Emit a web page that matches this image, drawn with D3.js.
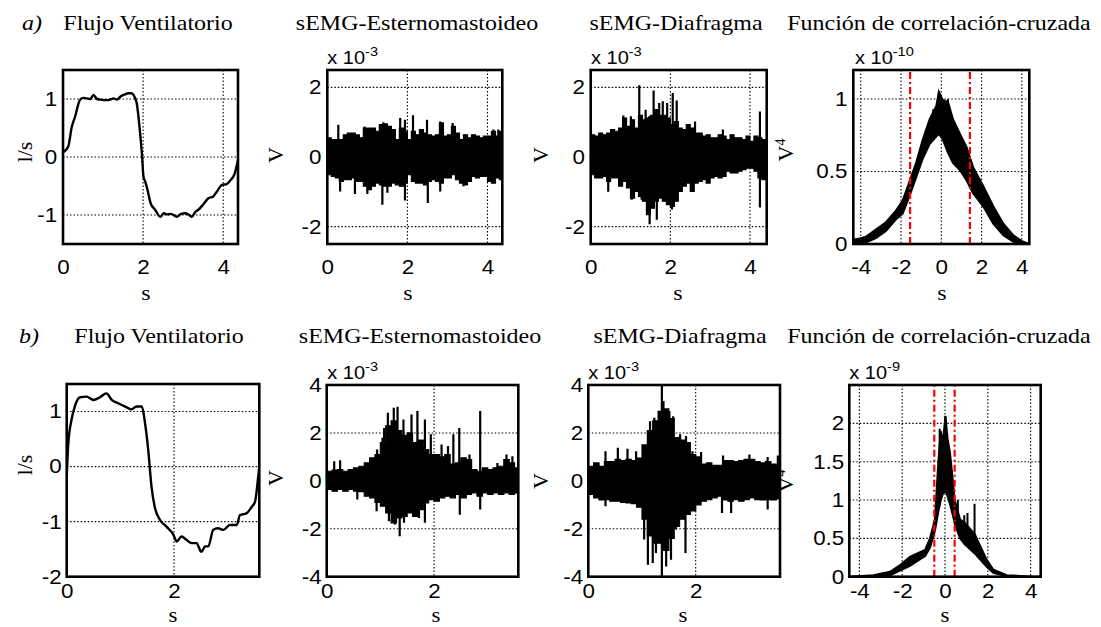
<!DOCTYPE html>
<html><head><meta charset="utf-8">
<script src="https://cdn.jsdelivr.net/npm/d3@7/dist/d3.min.js"></script>
<style>body{margin:0;background:#fff}svg{display:block}</style>
</head><body>
<svg id="c" width="1101" height="627"></svg>
<script>
// ---------------- DATA ----------------
// Row a) ventilatory flow (l/s)
const flowA_t = [0, 0.02, 0.13, 0.22, 0.3, 0.42, 0.5, 0.59, 0.68, 0.76, 0.85, 0.93, 1.09, 1.18, 1.26, 1.35, 1.43, 1.55, 1.63, 1.7, 1.76, 1.84, 1.91, 1.97, 2.01, 2.05, 2.09, 2.19, 2.3, 2.43, 2.52, 2.59, 2.7, 2.84, 2.95, 3.05, 3.15, 3.22, 3.3, 3.38, 3.5, 3.63, 3.75, 3.84, 3.97, 4.08, 4.18, 4.28, 4.37];
const flowA_v = [0.08, 0.09, 0.18, 0.52, 0.69, 0.98, 1.02, 1.01, 1.0, 1.07, 1.0, 0.99, 0.98, 0.99, 1.01, 0.99, 1.04, 1.08, 1.1, 1.1, 1.07, 0.93, 0.52, 0.06, -0.34, -0.42, -0.51, -0.8, -0.91, -1.03, -0.97, -0.99, -0.98, -1.03, -0.98, -0.97, -1.0, -1.03, -0.95, -0.91, -0.82, -0.71, -0.68, -0.6, -0.48, -0.47, -0.4, -0.3, -0.05];
// Row b) ventilatory flow (l/s)
const flowB_t = [0, 0.03, 0.09, 0.15, 0.25, 0.37, 0.5, 0.62, 0.74, 0.84, 0.96, 1.09, 1.21, 1.3, 1.4, 1.46, 1.52, 1.58, 1.64, 1.74, 1.86, 1.99, 2.05, 2.14, 2.23, 2.33, 2.42, 2.51, 2.58, 2.64, 2.73, 2.82, 2.92, 3.04, 3.17, 3.23, 3.35, 3.45, 3.51, 3.57, 3.59];
const flowB_v = [-0.2, 0.42, 0.85, 1.09, 1.26, 1.27, 1.21, 1.26, 1.33, 1.21, 1.15, 1.09, 1.04, 1.09, 1.09, 0.79, 0.3, -0.36, -0.73, -0.97, -1.09, -1.24, -1.36, -1.27, -1.33, -1.39, -1.39, -1.55, -1.45, -1.45, -1.15, -1.12, -1.15, -1.06, -1.06, -0.88, -0.85, -0.73, -0.64, -0.18, 0.0];

// sEMG envelopes (x 10^-3 V), one value per 0.1 s window, plus isolated spikes [t, v]
const emgStep = 0.1;
const emgA2_up = [0.55,0.5,0.5,0.5,0.64,0.69,0.69,0.64,0.55,0.83,0.83,0.83,0.74,0.93,0.95,0.88,0.79,0.5,0.83,0.74,0.5,0.74,0.64,0.79,0.69,0.64,0.6,0.64,0.98,0.6,0.64,0.88,0.69,0.5,0.64,0.55,0.64,0.6,0.55,0.6,0.6,0.74,0.6,0.74];
const emgA2_lo = [-0.51,-0.56,-0.6,-0.7,-0.65,-0.65,-0.6,-0.7,-0.7,-0.84,-0.94,-0.84,-0.75,-0.8,-0.84,-0.84,-0.75,-0.8,-0.84,-0.75,-0.51,-0.7,-0.75,-0.75,-0.8,-0.7,-0.65,-0.7,-0.75,-0.6,-0.6,-0.51,-0.65,-0.75,-0.8,-0.7,-0.56,-0.6,-0.56,-0.56,-0.7,-0.75,-0.6,-0.65];
const emgA2_spikes = [[0.275,0.93],[0.93,0.88],[1.4,1.0],[1.82,1.12],[1.94,1.07],[2.14,1.2],[2.49,1.07],[2.82,1.02],[3.13,0.98],[4.15,0.79],[4.27,0.79],[0.32,-0.99],[0.69,-1.06],[1.0,-1.06],[1.375,-1.37],[1.5,-1.03],[1.94,-1.25],[2.51,-1.32],[2.82,-0.99],[3.4,-0.84]];

const emgA3_up = [0.64,0.6,0.69,0.64,0.69,0.79,0.74,0.83,1.12,0.88,1.07,0.83,1.2,1.07,1.12,1.2,1.36,1.2,1.2,1.12,0.93,1.02,0.83,0.79,0.93,0.83,0.69,0.69,0.6,0.64,0.55,0.55,0.64,0.6,0.5,0.64,0.55,0.55,0.5,0.6,0.45,0.6,0.55,0.5];
const emgA3_lo = [-0.51,-0.6,-0.6,-0.56,-0.7,-0.6,-0.6,-0.84,-0.7,-0.89,-1.18,-0.99,-1.13,-1.27,-1.66,-1.47,-1.27,-1.18,-1.27,-1.37,-1.42,-1.27,-0.99,-0.84,-0.75,-0.99,-0.75,-0.7,-0.65,-0.75,-0.6,-0.56,-0.6,-0.56,-0.41,-0.46,-0.46,-0.41,-0.36,-0.32,-0.32,-0.41,-0.6,-0.65];
const emgA3_spikes = [[0.82,1.19],[1.01,1.17],[1.22,2.06],[1.38,1.36],[1.47,1.17],[1.58,1.91],[1.72,1.55],[1.81,1.6],[1.92,1.55],[2.06,1.84],[2.16,1.62],[2.62,1.02],[3.32,0.79],[4.25,1.31],[0.44,-1.0],[1.03,-1.23],[1.28,-1.23],[1.48,-1.93],[1.66,-1.8],[2.04,-1.51],[4.25,-1.45]];

const emgB2_up = [0.4,0.45,0.47,0.4,0.47,0.54,0.61,0.75,0.96,1.1,1.6,2.3,2.5,2.1,1.9,2.0,1.6,1.7,1.3,1.1,1.1,1.0,1.1,0.7,0.75,0.96,0.89,0.47,0.4,0.54,0.47,0.54,0.61,0.89,0.75,0.54];
const emgB2_lo = [-0.36,-0.43,-0.36,-0.43,-0.36,-0.43,-0.45,-0.64,-0.71,-0.9,-1.06,-1.34,-1.75,-1.55,-1.48,-1.34,-1.48,-1.2,-0.92,-0.78,-0.85,-0.71,-0.64,-0.71,-0.57,-0.71,-0.57,-0.5,-0.64,-0.5,-0.57,-0.5,-0.57,-0.5,-0.57,-0.5];
const emgB2_spikes = [[0.14,0.82],[0.25,0.86],[0.94,1.31],[1.04,1.8],[1.07,2.21],[1.14,2.84],[1.25,3.05],[1.32,3.09],[1.43,2.56],[1.58,2.77],[1.69,2.91],[1.83,2.56],[1.94,1.94],[2.14,1.52],[2.26,1.45],[2.36,1.94],[2.47,2.21],[2.66,1.1],[2.86,2.91],[3.18,0.75],[3.35,1.1],[3.46,1.03],[0.57,-0.78],[0.93,-1.27],[1.16,-1.69],[1.27,-1.82],[1.36,-2.31],[1.44,-1.75],[1.72,-1.55],[1.83,-1.75],[2.48,-1.41],[2.86,-1.2]];

const emgB3_up = [0.6,0.75,0.6,0.8,0.8,0.9,0.85,0.9,0.85,0.95,1.5,2.1,2.5,2.9,3.0,2.6,1.8,1.7,1.6,1.1,1.0,0.7,0.75,0.65,0.65,0.85,0.85,0.8,0.85,0.9,0.9,0.8,0.75,0.8,0.7,0.65];
const emgB3_lo = [-0.57,-0.71,-0.8,-0.78,-0.85,-0.85,-0.9,-0.92,-0.95,-1.1,-1.6,-2.3,-2.6,-2.6,-2.9,-2.4,-1.9,-1.6,-1.4,-1.25,-1.0,-0.85,-0.78,-0.71,-0.64,-0.8,-0.85,-0.78,-0.85,-0.78,-0.71,-0.78,-0.8,-0.78,-0.8,-0.75];
const emgB3_spikes = [[0.32,1.24],[0.55,1.38],[0.73,1.34],[0.89,1.24],[1.15,2.49],[1.23,2.63],[1.37,4.0],[1.4,3.33],[1.48,2.7],[1.51,2.91],[1.58,2.7],[1.71,1.94],[1.82,1.87],[1.94,1.24],[2.1,1.2],[2.51,1.06],[3.0,1.1],[3.34,1.0],[3.53,1.06],[0.32,-1.06],[1.04,-2.45],[1.11,-3.5],[1.2,-3.43],[1.26,-3.01],[1.37,-4.0],[1.45,-3.57],[1.54,-3.29],[1.63,-2.03],[1.81,-3.01],[2.49,-1.34],[2.66,-1.34],[3.34,-1.2]];

// Cross-correlation bands (lag s, upper / lower edge)
const corrA_lag = [-4.37,-4.0,-3.75,-3.25,-2.75,-2.25,-1.92,-1.58,-1.25,-0.92,-0.58,-0.25,-0.12,0.08,0.33,0.58,0.92,1.25,1.58,2.08,2.58,3.08,3.58,4.0,4.37];
const corrA_up  = [0.03,0.04,0.05,0.1,0.15,0.23,0.3,0.43,0.56,0.72,0.86,0.95,1.05,0.99,0.98,0.86,0.76,0.67,0.53,0.4,0.26,0.14,0.06,0.02,0.0];
const corrA_lo  = [0,0,0.01,0.04,0.09,0.17,0.21,0.33,0.46,0.59,0.69,0.74,0.76,0.72,0.63,0.56,0.51,0.44,0.35,0.26,0.14,0.06,0.015,0,0];
const corrA_spikes = [[-0.12,1.05],[0.33,1.0],[-0.4,0.93],[0.1,1.0]];
const corrA_marks = [-1.55, 1.42];

const corrB_lag = [-4.47,-3.35,-2.57,-2.1,-1.64,-1.32,-0.93,-0.7,-0.47,-0.31,-0.2,-0.1,0.02,0.12,0.23,0.35,0.45,0.55,0.7,0.93,1.09,1.4,1.56,1.95,2.26,2.88,4.1,4.47];
const corrB_up  = [0,0.02,0.065,0.15,0.26,0.3,0.35,0.5,0.75,1.5,1.9,1.75,2.09,1.8,1.62,1.3,1.0,0.9,0.75,0.7,0.65,0.55,0.45,0.22,0.09,0.02,0,0];
const corrB_lo  = [0,0,0.02,0.08,0.14,0.2,0.27,0.38,0.6,0.85,1.0,1.08,1.12,1.05,0.95,0.82,0.7,0.62,0.5,0.42,0.38,0.3,0.25,0.13,0.05,0.005,0,0];
const corrB_spikes = [[-0.25,1.93],[0.02,2.1],[0.6,1.0],[0.9,0.8],[1.05,0.83],[1.38,0.95]];
const corrB_marks = [-0.5, 0.45];

// Tick values
const ticksT4 = [0, 2, 4];
const ticksT2 = [0, 2];
const ticksLag = [-4, -2, 0, 2, 4];
const ticksFlowA = [-1, 0, 1];
const ticksFlowB = [-2, -1, 0, 1];
const ticksEmgA = [-2, 0, 2];
const ticksEmgB = [-4, -2, 0, 2, 4];
const ticksCorrA = [0, 0.5, 1];
const ticksCorrB = [0, 0.5, 1, 1.5, 2];

// Texts
const titleFlow = "Flujo Ventilatorio";
const titleEst = "sEMG-Esternomastoideo";
const titleDia = "sEMG-Diafragma";
const titleCorr = "Función de correlación-cruzada";

// ---------------- DRAWING ----------------
const svg = d3.select('#c');
const SERIF = "'Liberation Serif','Times New Roman',serif";
const SANS = "'Liberation Sans',Arial,sans-serif";
const TICK_FS = 20, TITLE_FS = 22, SX_SANS = 1.12, SX_SERIF = 1.09;

function serifText(x, y, str, opts = {}) {
  const t = svg.append('text')
    .attr('transform', `translate(${x},${y}) scale(${SX_SERIF},1)`)
    .attr('text-anchor', opts.anchor || 'middle')
    .attr('font-family', SERIF).attr('font-size', opts.size || TITLE_FS).text(str);
  if (opts.italic) t.attr('font-style', 'italic');
  return t;
}

function drawFlow(t, v) {
  return (g, x, y) => {
    const pts = t.map((d, i) => [d, v[i]]);
    g.append('path').datum(pts)
      .attr('d', d3.line().x(d => x(d[0])).y(d => y(d[1])).curve(d3.curveMonotoneX))
      .attr('fill', 'none').attr('stroke', '#000').attr('stroke-width', 2.4).attr('stroke-linejoin', 'round');
  };
}
function drawEmg(up, lo, spikes, tEnd) {
  return (g, x, y) => {
    const pts = up.map((u, i) => ({t: i * emgStep, u, l: lo[i]}));
    pts.push({t: tEnd, u: up[up.length - 1], l: lo[lo.length - 1]});
    g.append('path').datum(pts)
      .attr('d', d3.area().x(d => x(d.t)).y0(d => y(d.l)).y1(d => y(d.u)).curve(d3.curveStepAfter))
      .attr('fill', '#000').attr('stroke', '#000').attr('stroke-width', 1.2);
    g.selectAll(null).data(spikes).join('line')
      .attr('x1', d => x(d[0])).attr('x2', d => x(d[0]))
      .attr('y1', y(0)).attr('y2', d => y(d[1]))
      .attr('stroke', '#000').attr('stroke-width', 2.2);
  };
}
function drawCorr(lag, up, lo, spikes, marks) {
  return (g, x, y) => {
    const pts = lag.map((d, i) => ({l: d, u: up[i], o: lo[i]}));
    g.append('path').datum(pts)
      .attr('d', d3.area().x(d => x(d.l)).y0(d => y(d.o)).y1(d => y(d.u)))
      .attr('fill', '#000').attr('stroke', '#000').attr('stroke-width', 2);
    // spikes rise from the band's lower edge
    const loAt = d3.scaleLinear().domain(lag).range(lo);
    g.selectAll(null).data(spikes).join('line')
      .attr('x1', d => x(d[0])).attr('x2', d => x(d[0]))
      .attr('y1', d => y(loAt(d[0]))).attr('y2', d => y(d[1]))
      .attr('stroke', '#000').attr('stroke-width', 2);
    const [y0, y1] = y.range();
    g.selectAll(null).data(marks).join('line')
      .attr('x1', d => x(d)).attr('x2', d => x(d))
      .attr('y1', y0).attr('y2', y1)
      .attr('stroke', '#ff0000').attr('stroke-width', 2.2)
      .attr('stroke-dasharray', '7,3,2,3');
  };
}

let clipN = 0;
function panel(p) {
  const [L, R, T, B] = p.box;
  const x = d3.scaleLinear().domain(p.xDomain).range([L, R]);
  const y = d3.scaleLinear().domain(p.yDomain).range([B, T]);
  const g = svg.append('g');
  const id = 'clip' + (clipN++);
  svg.append('clipPath').attr('id', id).append('rect')
    .attr('x', L).attr('y', T).attr('width', R - L).attr('height', B - T);

  // grid
  const gx = p.xTicks.filter(v => x(v) > L + 2 && x(v) < R - 2);
  const gy = p.yTicks.filter(v => y(v) > T + 2 && y(v) < B - 2);
  g.selectAll(null).data(gx).join('line')
    .attr('x1', d => x(d)).attr('x2', d => x(d)).attr('y1', T).attr('y2', B)
    .attr('stroke', '#000').attr('stroke-width', 1.1).attr('stroke-dasharray', '1.5,2');
  g.selectAll(null).data(gy).join('line')
    .attr('y1', d => y(d)).attr('y2', d => y(d)).attr('x1', L).attr('x2', R)
    .attr('stroke', '#000').attr('stroke-width', 1.1).attr('stroke-dasharray', '1.5,2');

  // data
  const plot = g.append('g').attr('clip-path', `url(#${id})`);
  p.draw(plot, x, y);

  // frame
  g.append('rect').attr('x', L).attr('y', T).attr('width', R - L).attr('height', B - T)
    .attr('fill', 'none').attr('stroke', '#000').attr('stroke-width', 2.6);

  // axes
  const fmt = d => String(d);
  const ax = g.append('g').attr('transform', `translate(0,${B})`)
    .call(d3.axisBottom(x).tickValues(p.xTicks).tickSize(0).tickPadding(p.xPad).tickFormat(fmt));
  const ay = g.append('g').attr('transform', `translate(${L},0)`)
    .call(d3.axisLeft(y).tickValues(p.yTicks).tickSize(0).tickPadding(p.yPad).tickFormat(fmt));
  [ax, ay].forEach(a => {
    a.select('.domain').remove();
    a.selectAll('text').attr('font-family', SANS).attr('font-size', TICK_FS).attr('fill', '#000')
      .attr('transform', `scale(${SX_SANS},1)`);
  });

  // title and x label
  serifText(p.titleX, p.titleY, p.title);
  serifText(p.sX, p.sY, 's', {size: p.sSize});
  // y label
  const yl = g.append('text').attr('transform', `translate(${p.ylX},${p.ylY}) rotate(-90)`)
    .attr('text-anchor', 'middle').attr('font-family', SERIF).attr('font-size', TITLE_FS);
  yl.append('tspan').text(p.ylabel);
  if (p.ysup) yl.append('tspan').attr('dy', -8).attr('font-size', 14).text(p.ysup);
  // exponent
  if (p.exp) {
    const e = g.append('text').attr('transform', `translate(${p.expX},${p.expY}) scale(1.08,1)`)
      .attr('font-family', SANS).attr('font-size', 18.5);
    e.append('tspan').text('x 10');
    e.append('tspan').attr('dy', -8).attr('font-size', 13.5).text(p.exp);
  }
}

const rowA = {T: 70, B: 244, xPad: 16, yPad: 5.2, titleY: 30, sY: 300, sSize: 22, expY: 64};
const rowB = {T: 385, B: 576.7, xPad: 7, yPad: 4.5, titleY: 343, sY: 621.5, sSize: 21, expY: 379};

const panels = [
  Object.assign({}, rowA, {box: [63, 238, rowA.T, rowA.B], xDomain: [0, 4.37], yDomain: [-1.5, 1.5], xTicks: ticksT4, yTicks: ticksFlowA,
    title: titleFlow, titleX: 148, sX: 146, ylabel: 'l/s', ylX: 32, ylY: 152, draw: drawFlow(flowA_t, flowA_v)}),
  Object.assign({}, rowA, {box: [327.3, 502.3, rowA.T, rowA.B], xDomain: [0, 4.37], yDomain: [-2.5, 2.5], xTicks: ticksT4, yTicks: ticksEmgA,
    title: titleEst, titleX: 417, sX: 408, ylabel: 'V', ylX: 283, ylY: 155, exp: '-3', expX: 327.3,
    draw: drawEmg(emgA2_up, emgA2_lo, emgA2_spikes, 4.37)}),
  Object.assign({}, rowA, {box: [590.7, 766.7, rowA.T, rowA.B], xDomain: [0, 4.42], yDomain: [-2.5, 2.5], xTicks: ticksT4, yTicks: ticksEmgA,
    title: titleDia, titleX: 676, sX: 678, ylabel: 'V', ylX: 548, ylY: 155, exp: '-3', expX: 591,
    draw: drawEmg(emgA3_up, emgA3_lo, emgA3_spikes, 4.42)}),
  Object.assign({}, rowA, {box: [853.3, 1029.3, rowA.T, rowA.B], xDomain: [-4.37, 4.37], yDomain: [0, 1.2], xTicks: ticksLag, yTicks: ticksCorrA,
    title: titleCorr, titleX: 939, sX: 942, ylabel: 'V', ysup: '4', ylX: 793, ylY: 150, exp: '-10', expX: 855,
    draw: drawCorr(corrA_lag, corrA_up, corrA_lo, corrA_spikes, corrA_marks)}),

  Object.assign({}, rowB, {box: [66.7, 259.3, 384, rowB.B], xDomain: [0, 3.59], yDomain: [-2, 1.5], xTicks: ticksT2, yTicks: ticksFlowB,
    title: titleFlow, titleX: 159, sX: 173, ylabel: 'l/s', ylX: 32, ylY: 465, draw: drawFlow(flowB_t, flowB_v)}),
  Object.assign({}, rowB, {box: [326.7, 518.3, rowB.T, rowB.B], xDomain: [0, 3.57], yDomain: [-4, 4], xTicks: ticksT2, yTicks: ticksEmgB,
    title: titleEst, titleX: 420, sX: 436, ylabel: 'V', ylX: 283, ylY: 478, exp: '-3', expX: 327.3,
    draw: drawEmg(emgB2_up, emgB2_lo, emgB2_spikes, 3.57)}),
  Object.assign({}, rowB, {box: [588.3, 780, rowB.T, rowB.B], xDomain: [0, 3.57], yDomain: [-4, 4], xTicks: ticksT2, yTicks: ticksEmgB,
    title: titleDia, titleX: 680, sX: 683, ylabel: 'V', ylX: 548, ylY: 481, exp: '-3', expX: 588.3,
    draw: drawEmg(emgB3_up, emgB3_lo, emgB3_spikes, 3.57)}),
  Object.assign({}, rowB, {box: [849.3, 1040.7, rowB.T, rowB.B], xDomain: [-4.47, 4.47], yDomain: [0, 2.5], xTicks: ticksLag, yTicks: ticksCorrB,
    title: titleCorr, titleX: 939, sX: 945, ylabel: 'V', ysup: '4', ylX: 793, ylY: 481, exp: '-9', expX: 849.3,
    draw: drawCorr(corrB_lag, corrB_up, corrB_lo, corrB_spikes, corrB_marks)})
];
panels.forEach(panel);

// panel letters
serifText(22, 30, 'a)', {anchor: 'start', italic: true});
serifText(19, 343, 'b)', {anchor: 'start', italic: true});
</script>
</body></html>
